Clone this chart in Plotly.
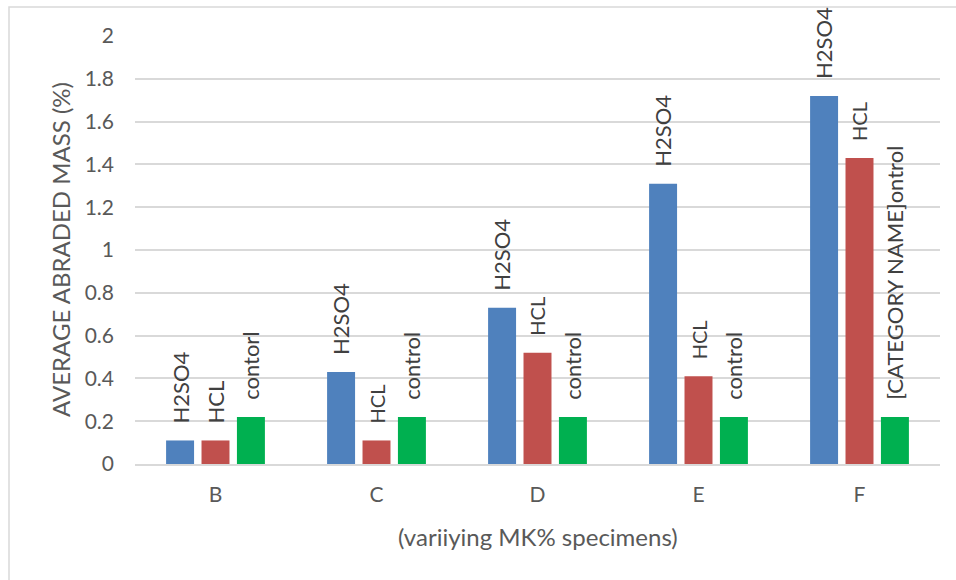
import plotly.graph_objects as go

# Specimen groups and abraded mass per exposure
categories = ["B", "C", "D", "E", "F"]
h2so4 = [0.11, 0.43, 0.73, 1.31, 1.72]
hcl = [0.11, 0.11, 0.52, 0.41, 1.43]
control = [0.22, 0.22, 0.22, 0.22, 0.22]

h2so4_labels = ["H2SO4", "H2SO4", "H2SO4", "H2SO4", "H2SO4"]
hcl_labels = ["HCL", "HCL", "HCL", "HCL", "HCL"]
control_labels = ["contorl", "control", "control", "control", "[CATEGORY NAME]ontrol"]

y_ticks = [0, 0.2, 0.4, 0.6, 0.8, 1, 1.2, 1.4, 1.6, 1.8, 2]

colors = ["#4f81bd", "#c0504d", "#00b050"]
FONT = "Lato"

W, H = 956, 580
ML, MR, MT, MB = 135, 16, 36, 116
BARGAP = 0.34
GROUPGAP = 0.21

fig = go.Figure()
series = [(h2so4, h2so4_labels), (hcl, hcl_labels), (control, control_labels)]
for (vals, _), c in zip(series, colors):
    fig.add_trace(go.Bar(x=categories, y=vals, marker=dict(color=c, line=dict(width=0)),
                         hoverinfo="skip"))

# vertical value-name labels sitting above each bar
plot_w = W - ML - MR
plot_h = H - MT - MB
slot = plot_w / len(categories) * (1 - BARGAP) / 3
annotations = []
for k, (vals, labels) in enumerate(series):
    for j, (cat, v, lab) in enumerate(zip(categories, vals, labels)):
        size = 22
        if k == 1 and j > 0:
            size = 20
        annotations.append(dict(
            x=cat, y=v, xref="x", yref="y", text=lab, showarrow=False,
            textangle=-90, xanchor="center", yanchor="bottom",
            xshift=(k - 1) * slot, yshift=15,
            font=dict(family=FONT, size=size, color="#404040"),
        ))

# axis titles
annotations.append(dict(
    x=(60 - ML) / plot_w, y=0.5, xref="paper", yref="paper",
    text="AVERAGE ABRADED MASS (%)", showarrow=False, textangle=-90,
    xanchor="center", yanchor="middle",
    font=dict(family=FONT, size=24, color="#595959"),
))
annotations.append(dict(
    x=0.5, y=-(536 - (H - MB)) / plot_h, xref="paper", yref="paper",
    text="(variiying MK% specimens)", showarrow=False,
    xanchor="center", yanchor="middle",
    font=dict(family=FONT, size=24, color="#595959"),
))

fig.update_layout(
    width=W, height=H,
    margin=dict(l=ML, r=MR, t=MT, b=MB),
    paper_bgcolor="white", plot_bgcolor="white",
    barmode="group", bargap=BARGAP, bargroupgap=GROUPGAP,
    showlegend=False,
    annotations=annotations,
    font=dict(family=FONT, color="#595959"),
    shapes=[dict(type="rect", xref="paper", yref="paper",
                 x0=-(ML - 9) / plot_w, x1=1.1, y0=-0.5, y1=1 + (MT - 7) / plot_h,
                 line=dict(color="#d9d9d9", width=1.5), layer="below")],
)
fig.update_xaxes(
    showgrid=False, showline=True, linecolor="#d9d9d9", linewidth=1.5,
    ticks="", tickfont=dict(family=FONT, size=21, color="#595959"),
    ticklabelstandoff=11,
)
fig.update_yaxes(
    range=[0, 2], tickvals=y_ticks, ticktext=[f"{t:g}" for t in y_ticks],
    showgrid=True, gridcolor="#d9d9d9", gridwidth=1.5, zeroline=False,
    showline=False, ticks="",
    tickfont=dict(family=FONT, size=21, color="#595959"),
    ticklabelstandoff=20,
)

fig.write_html("out.html")
